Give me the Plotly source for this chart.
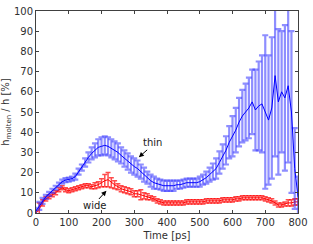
import plotly.graph_objects as go

time_ps = list(range(0, 801, 10))

thin_mean = [1, 3.5, 6, 8, 9.5, 11, 12.5, 14, 15.5, 16.3,
             16.5, 17, 18, 20.5, 22.5, 25, 27.5, 29.5, 31, 32.5,
             33, 33.5, 33, 32, 31, 30, 28.5, 27, 25.5, 24,
             23, 22, 20.5, 19, 17.5, 16, 15, 14.5, 14, 13.5,
             13.5, 13.5, 13.5, 14, 14, 14.5, 15, 15, 15, 15,
             15.5, 16.5, 17.5, 19, 20.5, 22, 25, 28, 31, 35,
             38, 41, 45, 48, 50, 52, 55, 51, 53, 54,
             50, 46, 52, 68, 55, 60, 57, 63, 50, 22,
             8]
thin_err = [1.5, 2, 1.5, 1, 1, 1, 1, 1, 1, 1,
            1, 1, 1.5, 1.5, 1.5, 2, 2.5, 3, 3.5, 4,
            4.5, 4.5, 4.5, 4.5, 4.5, 4.5, 4, 4, 4, 4,
            4, 4, 3.5, 3.5, 3, 3, 3, 2.5, 2.5, 2.5,
            2.5, 2.5, 2.5, 2, 2, 2, 2, 2, 2, 2,
            2.5, 2.5, 3, 3.5, 4, 5, 5.5, 6, 7, 8,
            10, 11, 12, 13, 14, 15, 16, 20, 22, 24,
            38, 32, 35, 40, 36, 30, 36, 38, 40, 20,
            10]
wide_mean = [0, 2, 5, 7, 8, 9, 10, 11.5, 12.5, 11.5,
             11, 11.5, 12, 12.5, 13, 13.5, 13.5, 13, 13.5, 14,
             15, 16, 16.5, 15, 14, 13, 12, 11.5, 11, 10.5,
             9.5, 9.5, 9, 8.5, 8, 7.5, 7, 6, 5.5, 5,
             5, 5, 5, 5, 5, 5, 5.5, 5.5, 5.5, 5.5,
             5.5, 5.5, 6, 6, 6, 6, 6, 6.5, 6.5, 6.5,
             6.5, 7, 7, 7.5, 7.5, 7.5, 7.5, 7.5, 7.5, 7.5,
             7, 6.5, 6, 5, 4, 4, 4.5, 5, 5, 5.5,
             5.5]
wide_err = [1, 3, 1.5, 1, 1, 1, 1, 1, 1, 1,
            1, 1, 1, 1, 1, 1, 1, 1, 1.5, 1.5,
            2, 3, 3.5, 2.5, 2, 1.5, 1.5, 1.5, 1.5, 1.5,
            1.5, 1.5, 2.5, 1.5, 1.5, 1, 1, 1, 1, 1,
            1, 1, 1, 1, 1, 1, 1, 1, 1, 1,
            1, 1, 1, 1, 1, 1, 1, 1, 1, 1,
            1, 1, 1, 1, 1, 1, 1, 1, 1, 1,
            1, 1, 1, 1, 1, 1, 1, 1.5, 1.5, 1.5,
            1.5]

x_ticks = [0, 100, 200, 300, 400, 500, 600, 700, 800]
y_ticks = [0, 10, 20, 30, 40, 50, 60, 70, 80, 90, 100]

FONT = "DejaVu Sans"
AX = "#404040"

fig = go.Figure()
fig.add_trace(go.Scatter(
    x=time_ps, y=wide_mean, mode="lines",
    line=dict(color="#ff0000", width=1),
    error_y=dict(type="data", array=wide_err, color="rgba(255,0,0,0.7)",
                 thickness=1.5, width=2.5),
    showlegend=False))
fig.add_trace(go.Scatter(
    x=time_ps, y=thin_mean, mode="lines",
    line=dict(color="#0000ff", width=1),
    error_y=dict(type="data", array=thin_err, color="rgba(50,50,255,0.55)",
                 thickness=2.2, width=3),
    showlegend=False))

fig.add_annotation(x=314, y=27.6, ax=344, ay=31.9, axref="x", ayref="y",
                   text="", showarrow=True, arrowhead=2, arrowsize=1,
                   arrowwidth=1, arrowcolor="black")
fig.add_annotation(x=356, y=35, text="thin", showarrow=False,
                   font=dict(family=FONT, size=10, color="#202020"))
fig.add_annotation(x=215, y=11, ax=188, ay=6.2, axref="x", ayref="y",
                   text="", showarrow=True, arrowhead=2, arrowsize=1,
                   arrowwidth=1, arrowcolor="black")
fig.add_annotation(x=178, y=3.5, text="wide", showarrow=False,
                   font=dict(family=FONT, size=10, color="#202020"))

axis_common = dict(showline=True, linecolor=AX, linewidth=1, mirror="ticks",
                   ticks="inside", ticklen=3, tickcolor=AX, showgrid=False,
                   zeroline=False, tickfont=dict(family=FONT, size=10, color="#303030"))

fig.update_xaxes(range=[0, 800], tickvals=x_ticks,
                 title=dict(text="Time [ps]", font=dict(family=FONT, size=10, color="#303030"),
                            standoff=4),
                 **axis_common)
fig.update_yaxes(range=[0, 100], tickvals=y_ticks,
                 title=dict(text="h<sub>molten</sub> / h [%]",
                            font=dict(family=FONT, size=10, color="#303030"),
                            standoff=2),
                 **axis_common)

fig.update_layout(width=313, height=244, margin=dict(l=35, r=11, t=5, b=29),
                  plot_bgcolor="white", paper_bgcolor="white",
                  font=dict(family=FONT, size=10))
fig.write_html("out.html", config={"displayModeBar": False},
               post_script="document.body.style.margin='0';document.body.style.overflow='hidden';")
